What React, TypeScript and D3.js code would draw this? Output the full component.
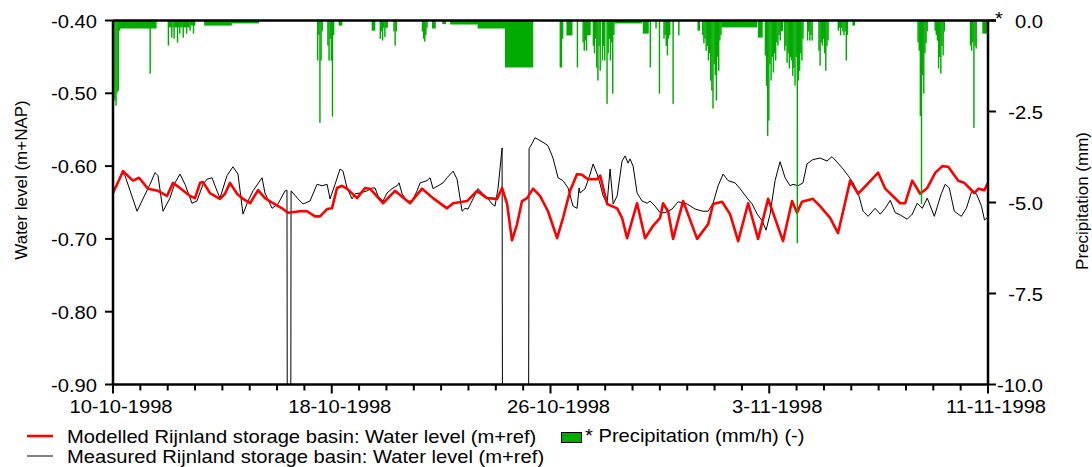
import React from 'react';
import * as d3 from 'd3';

// ---------- DATA ----------
const startDate = new Date(Date.UTC(1998, 9, 10, 0, 0));
const endDate = new Date(Date.UTC(1998, 10, 11, 0, 0));

// Modelled water level (hours since 10-10-1998 00:00, m)
const modelledHours = [0, 8.8, 17.6, 22.8, 30.7, 39.5, 47.4, 52.7, 58.8, 67.6, 72.0, 76.4, 79.0, 85.1, 93.9, 98.3, 102.7, 108.9, 114.1, 120.3, 127.3, 133.4, 140.5, 148.4, 153.6, 164.2, 170.3, 177.3, 181.7, 187.9, 192.2, 196.6, 201.0, 205.4, 214.2, 221.2, 225.6, 237.0, 247.5, 260.7, 271.3, 280.9, 293.2, 298.5, 310.8, 319.5, 328.3, 337.1, 341.5, 345.9, 350.2, 354.6, 359.0, 363.4, 368.7, 374.8, 381.8, 389.8, 395.0, 401.2, 407.3, 411.7, 417.0, 424.9, 427.6, 433.7, 442.5, 446.8, 451.2, 460.0, 467.0, 474.0, 480.2, 482.8, 487.2, 491.6, 500.4, 512.7, 522.3, 526.7, 534.6, 541.6, 548.7, 557.5, 566.2, 575.0, 588.1, 596.0, 600.4, 604.7, 614.3, 620.6, 629.4, 636.4, 647.0, 654.0, 661.9, 671.6, 677.8, 690.9, 695.3, 701.5, 708.5, 714.7, 721.8, 727.9, 733.1, 741.9, 747.2, 756.0, 759.6, 764.9, 768.0];
const modelledLevel = [-0.637, -0.607, -0.620, -0.616, -0.631, -0.634, -0.641, -0.623, -0.630, -0.641, -0.644, -0.623, -0.622, -0.637, -0.645, -0.638, -0.623, -0.638, -0.645, -0.651, -0.633, -0.644, -0.651, -0.658, -0.664, -0.662, -0.662, -0.669, -0.669, -0.659, -0.658, -0.630, -0.627, -0.631, -0.644, -0.630, -0.631, -0.651, -0.634, -0.651, -0.631, -0.644, -0.658, -0.651, -0.648, -0.634, -0.644, -0.645, -0.630, -0.652, -0.702, -0.680, -0.648, -0.644, -0.631, -0.641, -0.662, -0.699, -0.671, -0.634, -0.611, -0.612, -0.618, -0.618, -0.613, -0.652, -0.658, -0.671, -0.699, -0.651, -0.699, -0.682, -0.671, -0.651, -0.662, -0.700, -0.648, -0.700, -0.680, -0.652, -0.649, -0.666, -0.703, -0.651, -0.700, -0.645, -0.703, -0.648, -0.664, -0.649, -0.645, -0.655, -0.671, -0.692, -0.620, -0.638, -0.625, -0.609, -0.631, -0.651, -0.651, -0.620, -0.638, -0.630, -0.609, -0.600, -0.601, -0.620, -0.623, -0.637, -0.631, -0.633, -0.623];

// Measured water level (hours, m); -1.0 = sensor drop-out below the axis
const measuredHours = [0, 7.9, 10.5, 21.1, 26.3, 32.5, 36.9, 39.5, 43.9, 50.0, 54.4, 58.8, 63.2, 69.3, 73.7, 79.0, 82.5, 86.9, 89.5, 93.9, 100.1, 105.3, 109.7, 114.1, 118.5, 122.9, 130.8, 133.4, 139.6, 144.8, 151.0, 152.7, 153.0, 156.0, 156.3, 162.4, 166.8, 172.9, 179.1, 183.5, 187.9, 190.5, 194.9, 199.3, 201.9, 205.4, 209.8, 212.4, 216.8, 223.0, 227.4, 230.0, 232.6, 237.0, 240.5, 244.9, 249.3, 251.1, 253.7, 258.1, 262.5, 266.9, 269.5, 275.6, 278.3, 280.9, 285.3, 289.7, 293.2, 298.5, 302.0, 306.4, 309.0, 311.6, 316.0, 320.4, 324.8, 329.2, 332.7, 335.3, 338.0, 341.5, 341.9, 364.7, 365.2, 367.8, 370.4, 374.8, 379.2, 381.8, 386.2, 390.6, 395.0, 399.4, 403.8, 407.3, 409.1, 410.0, 414.4, 418.8, 421.4, 424.9, 427.6, 430.2, 433.7, 436.3, 439.0, 442.5, 446.8, 449.5, 452.1, 453.8, 456.5, 460.0, 464.4, 468.8, 471.4, 475.8, 480.2, 484.6, 490.7, 496.0, 503.9, 510.9, 517.9, 522.3, 526.7, 531.1, 535.5, 539.9, 546.0, 550.4, 556.6, 561.0, 565.4, 569.7, 573.2, 576.7, 581.1, 585.5, 589.9, 594.3, 596.9, 601.2, 605.6, 609.1, 614.3, 620.6, 626.7, 631.1, 636.4, 640.8, 645.2, 649.6, 654.0, 658.4, 662.8, 668.9, 673.4, 677.8, 682.2, 686.6, 690.9, 697.1, 701.5, 705.9, 710.3, 714.7, 720.9, 727.0, 730.4, 734.0, 738.4, 744.6, 749.0, 753.4, 757.8, 762.3, 764.9, 768.0];
const measuredLevel = [-0.637, -0.609, -0.613, -0.662, -0.645, -0.625, -0.609, -0.613, -0.662, -0.644, -0.623, -0.611, -0.625, -0.651, -0.648, -0.625, -0.618, -0.616, -0.627, -0.644, -0.613, -0.601, -0.611, -0.666, -0.648, -0.634, -0.616, -0.637, -0.658, -0.652, -0.634, -0.633, -1.0, -1.0, -0.634, -0.645, -0.652, -0.648, -0.625, -0.627, -0.625, -0.645, -0.625, -0.604, -0.607, -0.630, -0.645, -0.638, -0.637, -0.634, -0.630, -0.630, -0.641, -0.648, -0.637, -0.631, -0.627, -0.623, -0.638, -0.648, -0.648, -0.634, -0.623, -0.620, -0.616, -0.631, -0.627, -0.623, -0.616, -0.607, -0.618, -0.662, -0.658, -0.659, -0.645, -0.631, -0.638, -0.645, -0.652, -0.655, -0.630, -0.575, -1.0, -1.0, -0.576, -0.569, -0.561, -0.565, -0.569, -0.572, -0.589, -0.616, -0.620, -0.630, -0.655, -0.658, -0.630, -0.637, -0.631, -0.611, -0.597, -0.611, -0.625, -0.641, -0.651, -0.604, -0.652, -0.641, -0.593, -0.586, -0.596, -0.590, -0.600, -0.637, -0.648, -0.651, -0.648, -0.655, -0.664, -0.664, -0.659, -0.649, -0.652, -0.659, -0.662, -0.662, -0.651, -0.627, -0.611, -0.620, -0.623, -0.631, -0.644, -0.652, -0.666, -0.675, -0.688, -0.666, -0.620, -0.594, -0.616, -0.627, -0.625, -0.627, -0.623, -0.597, -0.591, -0.589, -0.593, -0.587, -0.596, -0.604, -0.613, -0.623, -0.637, -0.662, -0.669, -0.658, -0.666, -0.658, -0.647, -0.664, -0.667, -0.673, -0.666, -0.651, -0.658, -0.644, -0.669, -0.638, -0.625, -0.630, -0.662, -0.669, -0.658, -0.636, -0.638, -0.655, -0.674, -0.670];

// Precipitation: [start hour, duration hours, mm]
const rainEvents: [number, number, number][] = [
  [0, 1, 1.65], [1, 1, 2.2], [2, 1, 2.34], [3, 1, 1.98], [4, 1, 1.93], [5, 1, 0.28],
  [6, 32, 0.22], [32, 1, 1.46],
  [48, 1, 0.69], [49, 2, 0.19], [51, 1, 0.47], [52, 1, 0.19], [53, 1, 0.5], [54, 2, 0.19], [56, 1, 0.61], [57, 1, 0.19], [58, 1, 0.36], [59, 2, 0.19], [61, 1, 0.47], [62, 2, 0.19], [64, 1, 0.36], [65, 2, 0.19], [67, 1, 0.28], [68, 2, 0.14], [70, 1, 0.36], [71, 1, 0.14],
  [80, 24, 0.14], [104, 24, 0.08],
  [179, 1, 1.1], [180, 1, 0.4], [181, 1, 2.81], [182, 1, 1.1], [183, 1, 0.3],
  [188, 1, 0.69], [189, 1, 1.1], [190, 1, 0.5], [191, 1, 1.1], [192, 1, 2.64], [193, 1, 0.4],
  [198, 3, 0.14], [227, 3, 0.28],
  [234, 1, 0.5], [235, 1, 0.3], [236, 1, 0.55], [237, 1, 0.2], [238, 1, 0.45], [239, 2, 0.2],
  [246, 1, 0.3], [247, 1, 0.69], [248, 1, 0.3],
  [271, 1, 0.3], [272, 1, 0.5], [273, 1, 0.58], [274, 1, 0.4], [275, 1, 0.2],
  [280, 3, 0.22], [289, 3, 0.1], [296, 24, 0.11], [320, 24, 0.22], [344, 24.6, 1.29],
  [392, 2, 1.29], [394, 1, 0.5], [398, 5, 0.41], [407, 1, 1.29],
  [412, 1, 0.6], [413, 1, 0.83], [414, 1, 0.55], [415, 1, 0.83], [416, 3, 0.4],
  [421, 1, 0.69], [422, 1, 0.9], [423, 1, 0.5], [424, 1, 1.3], [425, 1, 1.65], [426, 1, 0.7], [427, 1, 1.38],
  [429, 1, 1.1], [430, 1, 0.7], [431, 1, 1.1],
  [433, 1, 2.29], [434, 1, 0.9], [435, 1, 0.5], [436, 1, 1.1], [437, 1, 0.6], [438, 1, 2.01], [439, 1, 0.4],
  [440, 24, 0.08], [465, 5, 0.36], [471, 1, 1.29], [476, 1, 0.22], [479, 1, 2.01],
  [483, 1, 0.5], [484, 1, 0.4], [485, 1, 0.7], [486, 1, 0.96], [487, 1, 0.5], [488, 1, 0.4],
  [491, 1, 2.29], [496, 1, 0.41], [513, 2, 0.28],
  [517, 1, 0.4], [518, 1, 0.63], [519, 1, 0.5], [520, 1, 0.83], [521, 1, 0.7], [522, 1, 1.1], [523, 1, 0.9], [524, 1, 1.65], [525, 1, 1.93], [526, 1, 2.42], [527, 1, 1.2], [528, 1, 1.5], [529, 1, 2.2], [530, 1, 1.0], [531, 1, 1.38], [532, 1, 0.55], [533, 1, 0.4],
  [534, 31, 0.19], [566, 4, 0.47],
  [572, 1, 0.96], [573, 1, 1.8], [574, 1, 3.17], [575, 1, 2.75], [576, 1, 1.2], [577, 1, 1.65],
  [578, 1, 1.0], [579, 1, 1.43], [580, 1, 0.9], [581, 1, 1.1], [582, 1, 0.6], [583, 1, 0.69], [584, 1, 0.4], [585, 1, 0.55], [586, 1, 0.3], [587, 1, 0.28],
  [589, 1, 0.83], [590, 1, 0.7], [591, 1, 1.16], [592, 1, 0.9], [593, 1, 1.32], [594, 1, 1.0], [595, 1, 1.1], [596, 1, 1.52], [597, 1, 1.3], [598, 1, 1.79], [599, 1, 1.0], [600, 1, 6.12], [601, 1, 1.65], [602, 1, 1.38], [603, 1, 0.9], [604, 1, 1.1], [605, 1, 0.5],
  [609, 1, 0.55], [610, 1, 0.3], [611, 1, 0.55], [612, 1, 0.4], [613, 1, 0.55],
  [619, 1, 0.83], [620, 1, 1.24], [621, 1, 0.6], [622, 1, 0.69], [623, 1, 0.5], [624, 1, 0.9], [625, 1, 1.38], [626, 1, 0.7], [627, 1, 0.55],
  [636, 1, 0.28], [637, 1, 0.2], [638, 1, 0.41], [639, 1, 0.2], [640, 1, 0.3], [641, 1, 0.41], [642, 1, 0.3], [643, 1, 1.1], [644, 1, 0.4], [649, 2, 0.14],
  [706, 1, 0.6], [707, 1, 0.83], [708, 1, 2.62], [709, 1, 5.04], [710, 1, 1.5], [711, 1, 2.01], [712, 1, 0.9], [713, 1, 0.63], [714, 1, 0.3],
  [721, 1, 0.28], [722, 1, 0.4], [723, 1, 0.55], [724, 1, 1.32], [725, 1, 1.0], [726, 1, 1.46], [727, 1, 0.7], [728, 1, 0.96], [729, 1, 0.3],
  [752, 1, 0.69], [753, 1, 0.83], [754, 1, 0.6], [755, 1, 2.95], [756, 1, 0.7], [757, 1, 0.77],
  [763, 4, 0.36],
];

const dateTickLabels = ['10-10-1998', '18-10-1998', '26-10-1998', '3-11-1998', '11-11-1998'];
const levelTicks = [-0.4, -0.5, -0.6, -0.7, -0.8, -0.9];
const levelTickLabels = ['-0.40', '-0.50', '-0.60', '-0.70', '-0.80', '-0.90'];
const rainTicks = [0, -2.5, -5, -7.5, -10];
const rainTickLabels = ['0.0', '-2.5', '-5.0', '-7.5', '-10.0'];
const legendLabels = [
  'Modelled Rijnland storage basin: Water level (m+ref)',
  'Measured Rijnland storage basin: Water level (m+ref)',
  '* Precipitation (mm/h) (-)',
];
const leftTitle = 'Water level (m+NAP)';
const rightTitle = 'Precipitation (mm)';

// ---------- LAYOUT ----------
const W = 1092, H = 467;
const L = 113, R = 988, T = 20.5, B = 384.5;
const FONT = '"Liberation Sans", Arial, Helvetica, sans-serif';
const FS = 18;
const SX = 1.12;
const GREEN = '#00aa00';

const hourToDate = (h: number) => new Date(startDate.getTime() + h * 3600e3);

function HText({ x, y, anchor = 'start', children, size = FS }: any) {
  return (
    <text transform={`translate(${x},${y}) scale(${SX},1)`} textAnchor={anchor}
      fontFamily={FONT} fontSize={size} fill="#000">{children}</text>
  );
}

export default function App() {
  const x = d3.scaleUtc().domain([startDate, endDate]).range([L, R]);
  const yL = d3.scaleLinear().domain([-0.9, -0.4]).range([B, T]);
  const yR = d3.scaleLinear().domain([-10, 0]).range([B, T]);

  const line = d3.line<[number, number]>()
    .x(d => x(hourToDate(d[0])))
    .y(d => yL(d[1]));

  const modelled = modelledHours.map((h, i) => [h, modelledLevel[i]] as [number, number]);
  const measured = measuredHours.map((h, i) => [h, measuredLevel[i]] as [number, number]);

  const days = d3.utcDay.range(startDate, d3.utcDay.offset(endDate, 1));
  const majors = days.filter((_, i) => i % 8 === 0);

  return (
    <div style={{ position: 'fixed', left: 0, top: 0 }}>
      <svg width={W} height={H} style={{ display: 'block', background: '#fff' }}>
        <defs>
          <clipPath id="plot"><rect x={L} y={T} width={R - L} height={B - T} /></clipPath>
        </defs>
        <g clipPath="url(#plot)">
          <path d={line(measured) || ''} fill="none" stroke="#000" strokeWidth={1} />
          <path d={line(modelled) || ''} fill="none" stroke="#ff0000" strokeWidth={2.6} strokeLinejoin="round" />
          {rainEvents.map(([s, d, mm], i) => {
            const x0 = x(hourToDate(s));
            const x1 = x(hourToDate(s + d));
            return <rect key={i} x={x0} y={yR(0)} width={Math.max(1.4, x1 - x0 + 0.3)} height={yR(-mm) - yR(0)} fill={GREEN} />;
          })}
        </g>

        {/* frame */}
        <line x1={L} x2={R + 8} y1={T} y2={T} stroke="#000" strokeWidth={2.5} />
        <line x1={L} x2={L} y1={T} y2={B} stroke="#000" strokeWidth={2.5} />
        <line x1={R} x2={R} y1={T} y2={B} stroke="#000" strokeWidth={2.5} />
        <line x1={L} x2={R} y1={B} y2={B} stroke="#000" strokeWidth={2.5} />

        {/* left axis */}
        {levelTicks.map((v, i) => (
          <g key={i}>
            <line x1={L - 8} x2={L} y1={yL(v)} y2={yL(v)} stroke="#000" strokeWidth={2} />
            <HText x={97} y={yL(v) + 7} anchor="end">{levelTickLabels[i]}</HText>
          </g>
        ))}
        {/* right axis */}
        {rainTicks.map((v, i) => (
          <g key={i}>
            <line x1={R} x2={R + 8} y1={yR(v)} y2={yR(v)} stroke="#000" strokeWidth={2} />
            <HText x={1043} y={yR(v) + 7} anchor="end">{rainTickLabels[i]}</HText>
          </g>
        ))}
        <HText x={999} y={25} anchor="middle">*</HText>

        {/* bottom axis */}
        {days.map((d, i) => (
          <line key={i} x1={x(d)} x2={x(d)} y1={B} y2={i % 8 === 0 ? B + 9 : B + 6} stroke="#000" strokeWidth={2} />
        ))}
        {majors.map((d, i) => (
          <HText key={i} x={x(d) + 8} y={413} anchor="middle">{dateTickLabels[i]}</HText>
        ))}

        {/* axis titles */}
        <text transform={`translate(27,180) rotate(-90)`} textAnchor="middle" fontFamily={FONT} fontSize={17} fill="#000">{leftTitle}</text>
        <text transform={`translate(1088,201) rotate(-90)`} textAnchor="middle" fontFamily={FONT} fontSize={17} fill="#000">{rightTitle}</text>

        {/* legend */}
        <line x1={27} x2={53} y1={436} y2={436} stroke="#ff0000" strokeWidth={2.6} />
        <HText x={67} y={443}>{legendLabels[0]}</HText>
        <line x1={27} x2={53} y1={456} y2={456} stroke="#000" strokeWidth={1} />
        <HText x={67} y={463}>{legendLabels[1]}</HText>
        <rect x={561.5} y={432.5} width={20} height={10} fill={GREEN} stroke="#000" strokeWidth={1} />
        <HText x={585} y={442}>{legendLabels[2]}</HText>
      </svg>
    </div>
  );
}
